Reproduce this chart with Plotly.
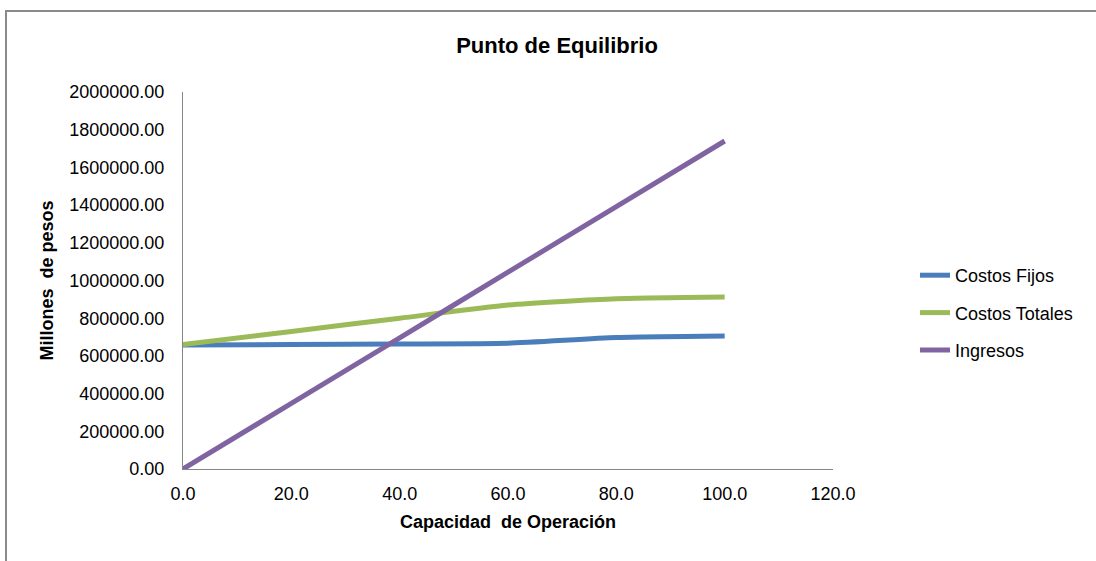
import plotly.graph_objects as go

# Capacidad de operación (%)
capacidad = [0, 20, 40, 60, 80, 100]

# Valores en millones de pesos
costos_fijos = [658000, 660000, 663000, 667000, 697000, 705000]
costos_totales = [660000, 730000, 800000, 870000, 903000, 912000]
ingresos = [0, 348000, 696000, 1044000, 1392000, 1740000]

series = [
    ("Costos Fijos", costos_fijos, "#4A7EBB"),
    ("Costos Totales", costos_totales, "#9BBB59"),
    ("Ingresos", ingresos, "#8064A2"),
]

W, H = 1096, 561
L, R, T, B = 183, 263, 92, 92
FONT = "Liberation Sans, Arial, sans-serif"

fig = go.Figure()
for name, vals, color in series:
    fig.add_trace(go.Scatter(
        x=capacidad, y=vals, name=name, mode="lines",
        line=dict(color=color, width=5, shape="spline", smoothing=0.6),
        legendgroup=name,
    ))

pw = W - L - R
ph = H - T - B
fig.update_layout(
    width=W, height=H,
    margin=dict(l=L, r=R, t=T, b=B, autoexpand=False),
    paper_bgcolor="white", plot_bgcolor="white",
    font=dict(family=FONT, size=18, color="#000000"),
    title=dict(text="<b>Punto de Equilibrio</b>", x=(557) / W, xanchor="center",
               y=1 - 45 / H, yanchor="middle", yref="container",
               font=dict(size=22, family=FONT)),
    xaxis=dict(range=[0, 120], tickvals=[0, 20, 40, 60, 80, 100, 120],
               tickformat=".1f", showgrid=False, zeroline=False,
               showline=True, linecolor="#868686", linewidth=1,
               ticks="", ticklabelstandoff=8,
               title=dict(text="<b>Capacidad\u00a0 de Operación</b>",
                          font=dict(size=18), standoff=12)),
    yaxis=dict(range=[0, 2000000], tickvals=list(range(0, 2000001, 200000)),
               tickformat=".2f", showgrid=False, zeroline=False,
               showline=True, linecolor="#868686", linewidth=1,
               ticks="", ticklabelstandoff=14,
               title=dict(text="<b>Millones\u00a0 de pesos</b>",
                          font=dict(size=18), standoff=10)),
    legend=dict(x=(915 - L) / pw, y=(469 - 257) / ph, xanchor="left",
                yanchor="top", tracegroupgap=11, bgcolor="rgba(0,0,0,0)",
                font=dict(size=18)),
    shapes=[dict(type="rect", xref="paper", yref="paper",
                 x0=(6 - L) / pw, x1=2.0, y0=-1.0, y1=(469 - 11) / ph,
                 line=dict(color="#8a8a8a", width=2), layer="below")],
)

fig.write_html("out.html")
